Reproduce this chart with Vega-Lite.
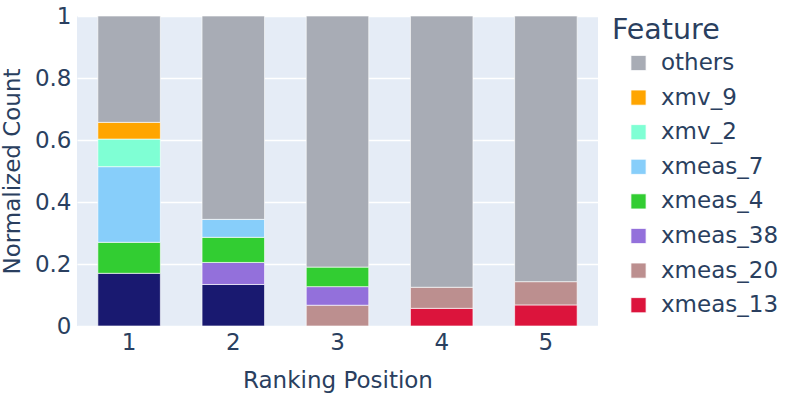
{
  "$schema": "https://vega.github.io/schema/vega-lite/v6.json",
  "width": 521,
  "height": 310,
  "autosize": {"type": "none"},
  "padding": {"left": 77, "top": 16, "right": 191, "bottom": 68},
  "background": "white",
  "config": {
    "font": "DejaVu Sans",
    "view": {"fill": "#E5ECF6", "stroke": null},
    "axis": {"labelColor": "#2a3f5f", "titleColor": "#2a3f5f", "labelFont": "DejaVu Sans", "titleFont": "DejaVu Sans", "titleFontWeight": "normal"},
    "legend": {"labelColor": "#2a3f5f", "titleColor": "#2a3f5f", "titleFontWeight": "normal"}
  },
  "data": {
    "values": [
      {"rank": "1", "feature": "xmeas_9", "value": 0.17, "ord": 0},
      {"rank": "1", "feature": "xmeas_4", "value": 0.10, "ord": 4},
      {"rank": "1", "feature": "xmeas_7", "value": 0.244, "ord": 5},
      {"rank": "1", "feature": "xmv_2", "value": 0.089, "ord": 6},
      {"rank": "1", "feature": "xmv_9", "value": 0.054, "ord": 7},
      {"rank": "1", "feature": "others", "value": 0.343, "ord": 8},
      {"rank": "2", "feature": "xmeas_9", "value": 0.134, "ord": 0},
      {"rank": "2", "feature": "xmeas_38", "value": 0.071, "ord": 3},
      {"rank": "2", "feature": "xmeas_4", "value": 0.081, "ord": 4},
      {"rank": "2", "feature": "xmeas_7", "value": 0.058, "ord": 5},
      {"rank": "2", "feature": "others", "value": 0.656, "ord": 8},
      {"rank": "3", "feature": "xmeas_20", "value": 0.067, "ord": 2},
      {"rank": "3", "feature": "xmeas_38", "value": 0.06, "ord": 3},
      {"rank": "3", "feature": "xmeas_4", "value": 0.063, "ord": 4},
      {"rank": "3", "feature": "others", "value": 0.81, "ord": 8},
      {"rank": "4", "feature": "xmeas_13", "value": 0.057, "ord": 1},
      {"rank": "4", "feature": "xmeas_20", "value": 0.068, "ord": 2},
      {"rank": "4", "feature": "others", "value": 0.875, "ord": 8},
      {"rank": "5", "feature": "xmeas_13", "value": 0.068, "ord": 1},
      {"rank": "5", "feature": "xmeas_20", "value": 0.075, "ord": 2},
      {"rank": "5", "feature": "others", "value": 0.857, "ord": 8}
    ]
  },
  "mark": {"type": "bar", "stroke": "white", "strokeWidth": 0.8, "strokeOpacity": 0.8},
  "encoding": {
    "x": {
      "field": "rank", "type": "ordinal",
      "scale": {"paddingInner": 0.4, "paddingOuter": 0.2},
      "axis": {"title": "Ranking Position", "labelAngle": 0, "labelFontSize": 23, "titleFontSize": 23, "ticks": false, "domain": false, "labelPadding": 5, "titlePadding": 15}
    },
    "y": {
      "field": "value", "type": "quantitative", "stack": "zero",
      "scale": {"domain": [0, 1], "nice": false},
      "axis": {"title": "Normalized Count", "values": [0, 0.2, 0.4, 0.6, 0.8, 1], "format": "~g", "labelFontSize": 23, "titleFontSize": 23, "ticks": false, "domain": false, "labelPadding": 6, "titlePadding": 10, "gridColor": "white", "gridWidth": 1.5}
    },
    "color": {
      "field": "feature", "type": "nominal",
      "scale": {
        "domain": ["others", "xmv_9", "xmv_2", "xmeas_7", "xmeas_4", "xmeas_38", "xmeas_20", "xmeas_13", "xmeas_9"],
        "range": ["#A8ACB5", "#FFA500", "#7FFFD4", "#87CEFA", "#32CD32", "#9370DB", "#BC8F8F", "#DC143C", "#191970"]
      },
      "legend": {
        "title": "Feature",
        "values": ["others", "xmv_9", "xmv_2", "xmeas_7", "xmeas_4", "xmeas_38", "xmeas_20", "xmeas_13"],
        "orient": "none", "legendX": 535, "legendY": 0,
        "titleFontSize": 28.5, "labelFontSize": 23, "symbolType": "square", "symbolSize": 230,
        "symbolStrokeColor": "white", "symbolStrokeWidth": 0.8,
        "rowPadding": 10.6, "labelOffset": 11, "titlePadding": 7, "padding": 0, "offset": 0, "symbolOffset": 15
      }
    },
    "order": {"field": "ord", "type": "quantitative"}
  }
}
